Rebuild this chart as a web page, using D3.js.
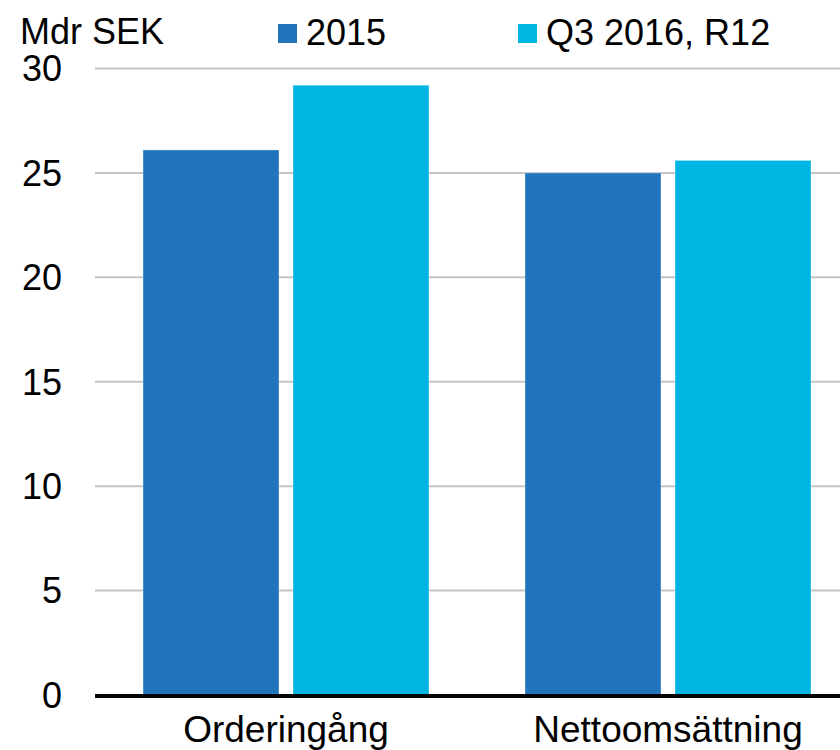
<!DOCTYPE html>
<html>
<head>
<meta charset="utf-8">
<script src="https://cdn.jsdelivr.net/npm/d3@7"></script>
<style>
  html, body { margin: 0; padding: 0; background: #fff; }
  svg { display: block; }
  text { font-family: "Liberation Sans", Arial, sans-serif; fill: #000; }
</style>
</head>
<body>
<svg id="chart" width="840" height="750"></svg>
<script>
const categories = ["Orderingång", "Nettoomsättning"];
const seriesNames = ["2015", "Q3 2016, R12"];
const values2015 = [26.1, 25.0];
const valuesQ3 = [29.2, 25.6];
const yTicks = [0, 5, 10, 15, 20, 25, 30];
const unitLabel = "Mdr SEK";
const colors = ["#2173BC", "#00B5E1"];

const data = categories.map((c, i) => ({
  category: c,
  vals: [
    { key: seriesNames[0], value: values2015[i] },
    { key: seriesNames[1], value: valuesQ3[i] }
  ]
}));

const svg = d3.select("#chart");
const x0 = d3.scaleBand().domain(categories).range([95, 859]).padding(0);
const x1 = d3.scaleBand().domain(seriesNames)
  .range([48, x0.bandwidth() - 48]).paddingInner(0.0933);
const y = d3.scaleLinear().domain([0, 30]).range([695, 68.5]);
const color = d3.scaleOrdinal().domain(seriesNames).range(colors);

// gridlines
svg.append("g").selectAll("line")
  .data(yTicks.filter(t => t > 0))
  .join("line")
  .attr("x1", 95).attr("x2", 840)
  .attr("y1", d => y(d)).attr("y2", d => y(d))
  .attr("stroke", "#C4C4C4").attr("stroke-width", 2);

// y axis labels
const yAxis = d3.axisLeft(y).tickValues(yTicks).tickSize(0).tickPadding(0);
const gy = svg.append("g").attr("transform", "translate(62,0)").call(yAxis);
gy.select(".domain").remove();
gy.selectAll("text")
  .attr("font-size", 36)
  .attr("font-family", "Liberation Sans, Arial, sans-serif")
  .attr("fill", "#000")
  .attr("dy", "0.34em");

// bars
svg.append("g").selectAll("g")
  .data(data)
  .join("g")
  .attr("transform", d => `translate(${x0(d.category)},0)`)
  .selectAll("rect")
  .data(d => d.vals)
  .join("rect")
  .attr("x", d => x1(d.key))
  .attr("width", x1.bandwidth())
  .attr("y", d => y(d.value))
  .attr("height", d => y(0) - y(d.value))
  .attr("fill", d => color(d.key))
  .attr("stroke", "rgba(255,255,255,0.35)")
  .attr("stroke-width", 1);

// x axis
const xAxis = d3.axisBottom(x0).tickSize(0).tickPadding(0);
const gx = svg.append("g").attr("transform", `translate(0,${y(0)})`).call(xAxis);
gx.select(".domain").remove();
gx.append("line").attr("x1", 95).attr("x2", 840).attr("y1", 1).attr("y2", 1)
  .attr("stroke", "#000").attr("stroke-width", 4);
gx.selectAll(".tick text")
  .attr("font-size", 37)
  .attr("font-family", "Liberation Sans, Arial, sans-serif")
  .attr("fill", "#000")
  .attr("dy", 0)
  .attr("y", 47);

// unit label
svg.append("text").attr("x", 20).attr("y", 44)
  .attr("font-size", 36).text(unitLabel);

// legend
const legendX = [278, 518];
const lg = svg.append("g").selectAll("g")
  .data(seriesNames)
  .join("g")
  .attr("transform", (d, i) => `translate(${legendX[i]},0)`);
lg.append("rect").attr("x", 0).attr("y", 24).attr("width", 19).attr("height", 19)
  .attr("fill", d => color(d));
lg.append("text").attr("x", 28).attr("y", 45).attr("font-size", 36).text(d => d);
</script>
</body>
</html>
